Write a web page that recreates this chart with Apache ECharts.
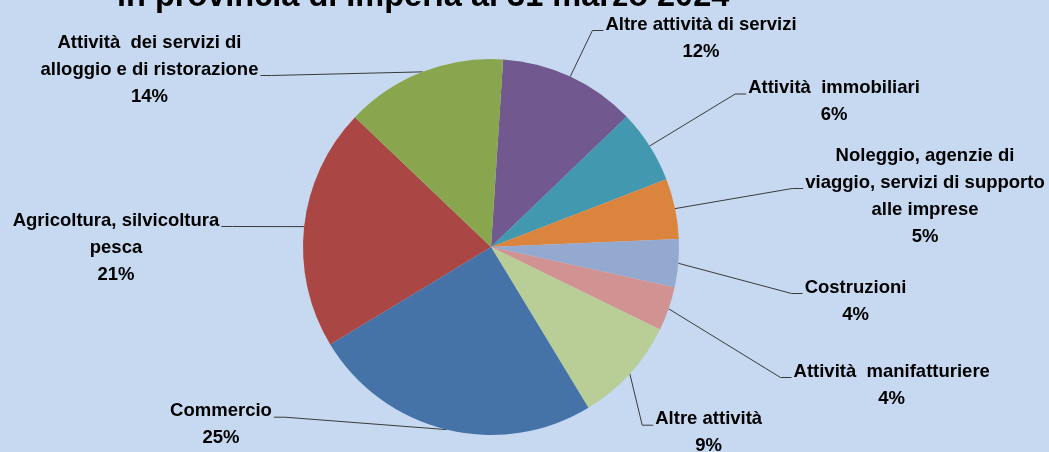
<!DOCTYPE html>
<html>
<head>
<meta charset="utf-8">
<title>Imprese per settore - Imperia</title>
<script src="https://cdn.jsdelivr.net/npm/echarts@6/dist/echarts.min.js"></script>
<style>
  html, body { margin: 0; padding: 0; background: #c6d9f1; }
  #myChart { width: 1049px; height: 452px; }
</style>
</head>
<body>
<div id="myChart"></div>
<script>
// settori, in senso orario partendo dall'alto
const sectors = [
  'Altre attività di servizi',
  'Attività  immobiliari',
  'Noleggio, agenzie di\nviaggio, servizi di supporto\nalle imprese',
  'Costruzioni',
  'Attività  manifatturiere',
  'Altre attività',
  'Commercio',
  'Agricoltura, silvicoltura\npesca',
  'Attività  dei servizi di\nalloggio e di ristorazione'
]
// quote (%)
const shares = [11.8, 6.3, 5.2, 4.1, 3.8, 9.1, 25.0, 20.8, 13.9]
const colors = ['#71588f', '#4198af', '#db843d', '#93a9cf', '#d19392', '#b9cd96', '#4572a7', '#aa4643', '#89a54e']
const titleText = 'in provincia di Imperia al 31 marzo 2024'

// posizione etichette: centro x, top y, riga a cui arriva la linea, lato
const labelSpots = [
  [701, 11, 0, 'left'],
  [834, 74.5, 0, 'left'],
  [925, 142, 1, 'left'],
  [855.5, 274, 0, 'left'],
  [891.7, 358, 0, 'left'],
  [708.7, 405.7, 0, 'left'],
  [221, 397.7, 0, 'right'],
  [116, 207, 0, 'right'],
  [149.5, 29, 1, 'right']
]
const labelFont = 'bold 18.5px "Liberation Sans"'
const ctx = document.createElement('canvas').getContext('2d')
ctx.font = labelFont
function textWidth(s) {
  return ctx.measureText(s).width
}

const myChart = echarts.init(document.getElementById('myChart'))
const option = {
  backgroundColor: '#c6d9f1',
  title: {
    text: titleText,
    left: 112,
    top: -24,
    textStyle: {
      fontFamily: 'Liberation Sans',
      fontWeight: 'bold',
      fontSize: 32.5,
      color: '#000'
    }
  },
  series: [
    {
      type: 'pie',
      center: [491, 247],
      radius: 188,
      startAngle: 86.3,
      clockwise: true,
      avoidLabelOverlap: false,
      percentPrecision: 0,
      itemStyle: {
        borderWidth: 0
      },
      label: {
        show: true,
        formatter: '{b}\n{d}%',
        fontFamily: 'Liberation Sans',
        fontWeight: 'bold',
        fontSize: 18.5,
        lineHeight: 27,
        color: '#000',
        align: 'center'
      },
      labelLine: {
        show: true,
        lineStyle: {
          color: '#3a3a3a',
          width: 1
        }
      },
      labelLayout: function(params) {
        const spot = labelSpots[params.dataIndex]
        const lines = params.text.split('\n')
        const w = textWidth(lines[spot[2]])
        const y = spot[1] + 19.5 + 27 * spot[2]
        const endX = spot[3] === 'left' ? spot[0] - w / 2 - 2 : spot[0] + w / 2 + 2
        const elbowX = spot[3] === 'left' ? endX - 11 : endX + 11
        const p0 = params.labelLinePoints[0]
        return {
          x: spot[0],
          y: spot[1],
          align: 'center',
          verticalAlign: 'top',
          labelLinePoints: [p0, [elbowX, y], [endX, y]]
        }
      },
      data: sectors.map(function(name, i) {
        return { name: name, value: shares[i], itemStyle: { color: colors[i] } }
      })
    }
  ]
}
myChart.setOption(option)
window.addEventListener('resize', function() {
  myChart.resize()
})
</script>
</body>
</html>
